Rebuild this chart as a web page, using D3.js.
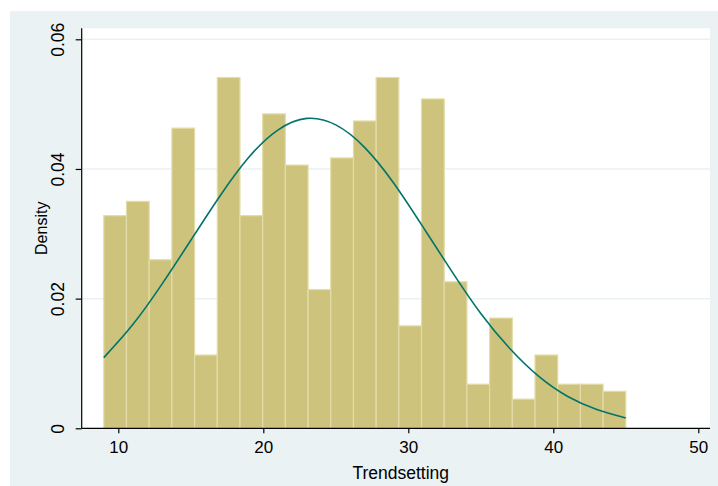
<!DOCTYPE html>
<html>
<head>
<meta charset="utf-8">
<script src="https://cdn.jsdelivr.net/npm/d3@7"></script>
<style>
  body { margin: 0; background: #fff; }
  text { font-family: "Liberation Sans", Arial, sans-serif; }
</style>
</head>
<body>
<div id="chart"></div>
<script>
// histogram of Trendsetting: 23 equal bins from 9 to 45, values are densities
const binMin = 9;
const binMax = 45;
const densities = [0.0328, 0.0350, 0.0260, 0.0463, 0.0113, 0.0541, 0.0328, 0.0485,
  0.0406, 0.0214, 0.0417, 0.0474, 0.0541, 0.0158, 0.0508, 0.0226, 0.0068, 0.0170,
  0.0045, 0.0113, 0.0068, 0.0068, 0.0057];

// normal density overlay
const curveX = [9, 11, 13, 15, 17, 19, 21, 23, 25, 27, 29, 31, 33, 35, 37, 39, 41, 43, 45];
const curveY = [0.0109, 0.0160, 0.0222, 0.0290, 0.0358, 0.0418, 0.0460, 0.0478, 0.0468,
  0.0433, 0.0378, 0.0311, 0.0242, 0.0177, 0.0123, 0.0080, 0.0049, 0.0029, 0.0016];

const xTicks = [10, 20, 30, 40, 50];
const yTicks = [0, 0.02, 0.04, 0.06];
const yTickLabels = ['0', '0.02', '0.04', '0.06'];

const dimensions = {
  width: 718,
  height: 486,
  plot: { left: 81.7, right: 710, top: 28.3, bottom: 428.3 }
};

const svg = d3.select('#chart')
  .append('svg')
  .attr('width', dimensions.width)
  .attr('height', dimensions.height);

const xScale = d3.scaleLinear().domain([10, 50]).range([118.3, 698.3]);
const yScale = d3.scaleLinear().domain([0, 0.06]).range([428.3, 39.3]);
const p = dimensions.plot;

// outer graph region and white plot region
svg.append('rect').attr('x', 10).attr('y', 11).attr('width', 708).attr('height', 475).attr('fill', '#eaf2f3');
svg.append('rect').attr('x', p.left).attr('y', p.top).attr('width', p.right - p.left).attr('height', p.bottom - p.top).attr('fill', '#fff');

// grid lines
svg.append('g').selectAll('line').data(yTicks.slice(1)).enter().append('line')
  .attr('x1', p.left).attr('x2', p.right)
  .attr('y1', d => yScale(d)).attr('y2', d => yScale(d))
  .attr('stroke', '#eaf2f3').attr('stroke-width', 1.5);

// bars
const binWidth = (binMax - binMin) / densities.length;
svg.append('g').selectAll('.bar').data(densities).enter().append('rect')
  .attr('class', 'bar')
  .attr('x', (d, i) => xScale(binMin + i * binWidth))
  .attr('width', xScale(binMin + binWidth) - xScale(binMin))
  .attr('y', d => yScale(d))
  .attr('height', d => yScale(0) - yScale(d))
  .attr('fill', '#cdc37c')
  .attr('stroke', '#e3dca8')
  .attr('stroke-width', 1.2);

// normal curve
const line = d3.line()
  .x(d => xScale(d[0]))
  .y(d => yScale(d[1]))
  .curve(d3.curveNatural);
svg.append('path')
  .datum(curveX.map((x, i) => [x, curveY[i]]))
  .attr('d', line)
  .attr('fill', 'none')
  .attr('stroke', '#00746a')
  .attr('stroke-width', 1.6);

// axes
const xAxis = d3.axisBottom(xScale).tickValues(xTicks).tickSize(5).tickPadding(8).tickSizeOuter(0);
const xg = svg.append('g').attr('transform', `translate(0,${p.bottom})`).call(xAxis);
xg.select('.domain').remove();
xg.append('line').attr('x1', p.left).attr('x2', p.right).attr('stroke', '#000').attr('stroke-width', 1.2);
xg.selectAll('.tick line').attr('stroke', '#000').attr('stroke-width', 1.2);
xg.selectAll('.tick text').attr('font-size', '17px').attr('fill', '#000').attr('font-family', '"Liberation Sans", Arial, sans-serif');

const yAxis = d3.axisLeft(yScale).tickValues(yTicks).tickFormat((d, i) => yTickLabels[i]).tickSize(6).tickSizeOuter(0);
const yg = svg.append('g').attr('transform', `translate(${p.left},0)`).call(yAxis);
yg.select('.domain').remove();
yg.append('line').attr('y1', p.top).attr('y2', p.bottom).attr('stroke', '#000').attr('stroke-width', 1.2);
yg.selectAll('.tick line').attr('stroke', '#000').attr('stroke-width', 1.2);
yg.selectAll('.tick text')
  .attr('x', null).attr('dy', null)
  .attr('text-anchor', 'middle')
  .attr('transform', 'translate(-22.5,0) rotate(-90)')
  .attr('y', 0)
  .attr('dominant-baseline', 'middle')
  .attr('font-size', '17.5px').attr('fill', '#000')
  .attr('font-family', '"Liberation Sans", Arial, sans-serif');

// axis titles
svg.append('text')
  .attr('x', 400.7).attr('y', 479.3)
  .attr('text-anchor', 'middle').attr('font-size', '17.5px')
  .text('Trendsetting');
svg.append('text')
  .attr('transform', `translate(46.7,${(p.top + p.bottom) / 2}) rotate(-90)`)
  .attr('text-anchor', 'middle').attr('font-size', '16px')
  .text('Density');
</script>
</body>
</html>
